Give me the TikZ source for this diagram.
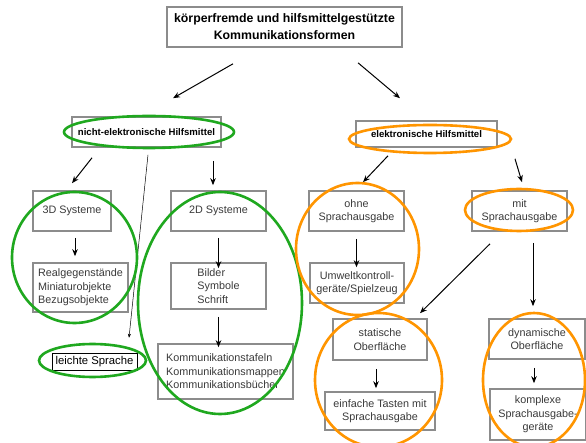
\documentclass[tikz,border=0pt]{standalone}
\usepackage{fontspec}
\setmainfont{Liberation Sans}
\usetikzlibrary{arrows.meta}
\definecolor{boxgray}{HTML}{8C8C8C}
\definecolor{txtgray}{HTML}{3A3A3A}
\definecolor{grn}{HTML}{1FA81F}
\definecolor{org}{HTML}{FF9500}
\begin{document}
\begin{tikzpicture}[x=1pt,y=-1pt,
  box/.style={draw=boxgray,line width=1.6pt,inner sep=0pt,align=center,
    text=txtgray,font=\fontsize{10.8}{13.5}\selectfont},
  arr/.style={draw=black,line width=1pt,-{Stealth[length=7pt,width=5.5pt]}},
  thinarr/.style={draw=black,line width=0.5pt,-{Stealth[length=4pt,width=3pt]}},
  gring/.style={draw=grn,line width=2.6pt},
  oring/.style={draw=org,line width=2.6pt}]
\useasboundingbox (0,0) rectangle (586,443);
\fill[white] (0,0) rectangle (586,443);
\begin{scope}
\clip (0,0) rectangle (586,443);
% boxes
\node[box,minimum width=235pt,minimum height=40pt,text=black,
  font=\fontsize{12.3}{17}\selectfont\bfseries] (top) at (284.5,27)
  {körperfremde und hilfsmittelgestützte\\Kommunikationsformen};
\node[box,minimum width=149pt,minimum height=30pt,text=black,
  font=\fontsize{9.6}{11}\selectfont\bfseries] (nicht) at (146.5,132) {nicht-elektronische Hilfsmittel};
\node[box,minimum width=141pt,minimum height=26pt,text=black,
  font=\fontsize{9.6}{11}\selectfont\bfseries] (elek) at (426.5,134) {elektronische Hilfsmittel};
\node[box,minimum width=78pt,minimum height=40pt] (d3) at (72,211) {3D Systeme};
\node[box,minimum width=95pt,minimum height=49pt,align=left] (real) at (80.5,287.5)
  {Realgegenstände\\Miniaturobjekte\\Bezugsobjekte};
\node[draw=black,line width=0.5pt,inner sep=0pt,minimum width=85pt,minimum height=17pt,
  font=\fontsize{11.3}{13}\selectfont] (leicht) at (94.5,361.5) {leichte Sprache};
\node[box,minimum width=95pt,minimum height=40pt] (d2) at (218.5,211) {2D Systeme};
\node[box,minimum width=95pt,minimum height=46pt,align=left] (bild) at (218.5,286)
  {Bilder\\Symbole\\Schrift};
\node[box,minimum width=135pt,minimum height=55pt,align=left] (komm) at (225.5,371.5)
  {Kommunikationstafeln\\Kommunikationsmappen\\Kommunikationsbücher};
\node[box,minimum width=95pt,minimum height=40pt] (ohne) at (356.5,211) {ohne\\Sprachausgabe};
\node[box,minimum width=94pt,minimum height=40pt] (umw) at (357,283) {Umweltkontroll-\\geräte/Spielzeug};
\node[box,minimum width=95pt,minimum height=40pt] (mit) at (519.5,211) {mit\\Sprachausgabe};
\node[box,minimum width=94pt,minimum height=41pt] (stat) at (380,339.5) {statische\\Oberfläche};
\node[box,minimum width=110pt,minimum height=38pt] (einf) at (380,411) {einfache Tasten mit\\Sprachausgabe};
\node[box,minimum width=96pt,minimum height=40pt] (dyn) at (537,339) {dynamische\\Oberfläche};
\node[box,minimum width=96pt,minimum height=51pt] (kompl) at (538,414.5) {komplexe\\Sprachausgabe-\\geräte};
% arrows
\draw[arr] ([shift={(-51.5,16)}]top.south) -- ([shift={(26.5,-18)}]nicht.north);
\draw[arr] ([shift={(73.5,15)}]top.south) -- ([shift={(-26.5,-22)}]elek.north);
\draw[arr] ([shift={(-54.5,10)}]nicht.south) -- ([shift={(0,-7)}]d3.north);
\draw[arr] ([shift={(66.5,13)}]nicht.south) -- ([shift={(-5.5,-5)}]d2.north);
\draw[thinarr] ([shift={(1.5,7)}]nicht.south) -- ([shift={(34.5,-15)}]leicht.north);
\draw[arr] ([shift={(-38.5,8)}]elek.south) -- ([shift={(6.5,-8)}]ohne.north);
\draw[arr] ([shift={(88.5,11)}]elek.south) -- ([shift={(2.5,-8)}]mit.north);
\draw[arr] ([shift={(3,6)}]d3.south) -- ([shift={(3,-6)}]d3.south |- real.north);
\draw[arr] (d2.south) ++(0,6) -- ([yshift=-6pt]d2.south |- bild.north);
\draw[arr] (bild.south) ++(0,7) -- ([yshift=-4pt]bild.south |- komm.north);
\draw[arr] (ohne.south) ++(0,7) -- ([yshift=-5pt]ohne.south |- umw.north);
\draw[arr] ([shift={(-29.5,12)}]mit.south) -- ([shift={(40,-5)}]stat.north);
\draw[arr] ([shift={(13.5,11)}]mit.south) -- ([shift={(-4,-12)}]dyn.north);
\draw[arr] ([shift={(-4,8)}]stat.south) -- ([shift={(-4,-3)}]stat.south |- einf.north);
\draw[arr] ([shift={(-3,8)}]dyn.south) -- ([shift={(-3,-5)}]dyn.south |- kompl.north);
% rings
\draw[gring] (149,132) ellipse [x radius=85, y radius=16];
\draw[oring] (430,139) ellipse [x radius=81, y radius=14];
\draw[gring] (74.5,257.5) ellipse [x radius=62.5, y radius=65.5];
\draw[gring] (92.5,360.5) ellipse [x radius=53.5, y radius=16.5];
\draw[gring] (220,303) ellipse [x radius=82, y radius=111];
\draw[oring] (357.5,249) ellipse [x radius=61.5, y radius=66];
\draw[oring] (519,210) ellipse [x radius=54, y radius=21];
\draw[oring] (378.5,380) ellipse [x radius=63.5, y radius=67];
\draw[oring] (534,380) ellipse [x radius=51, y radius=67];
\end{scope}
\end{tikzpicture}
\end{document}
